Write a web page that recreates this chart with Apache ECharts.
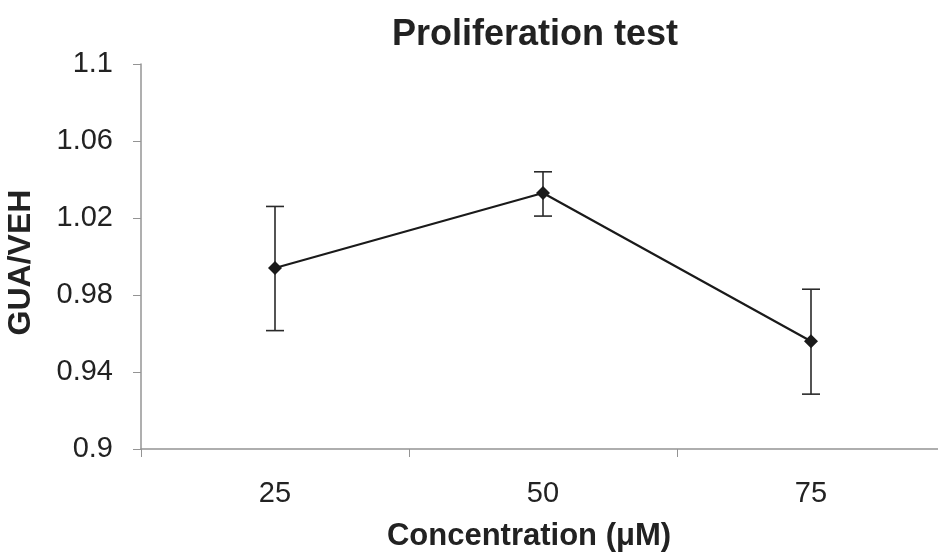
<!DOCTYPE html>
<html>
<head>
<meta charset="utf-8">
<script src="https://cdn.jsdelivr.net/npm/echarts@6/dist/echarts.min.js"></script>
<style>html,body{margin:0;padding:0;background:#fff}#c{width:938px;height:552px}</style>
</head>
<body>
<div id="c"></div>
<script>
const categories = ['25', '50', '75'];
const means = [0.994, 1.033, 0.956];
const errLow = [0.9615, 1.021, 0.9285];
const errHigh = [1.026, 1.044, 0.983];
const yTicks = [0.9, 0.94, 0.98, 1.02, 1.06, 1.1];

const chart = echarts.init(document.getElementById('c'));
const font = '"Liberation Sans", Arial, sans-serif';
const errData = categories.map((c, i) => [i, errLow[i], errHigh[i]]);

chart.setOption({
  animation: false,
  title: {
    text: 'Proliferation test',
    left: 530, top: 12, textAlign: 'center',
    textStyle: { fontFamily: font, fontSize: 36, fontWeight: 'bold', color: '#222' }
  },
  grid: { left: 141, top: 64, width: 804, height: 385, outerBoundsMode: 'none', containLabel: false },
  xAxis: {
    type: 'category',
    data: categories,
    boundaryGap: true,
    name: 'Concentration (μM)',
    nameLocation: 'middle',
    nameGap: 72,
    nameTextStyle: { fontFamily: font, fontSize: 31, fontWeight: 'bold', color: '#222', padding: [0, 28, 0, 0] },
    axisLine: { lineStyle: { color: '#949494', width: 1.5 } },
    axisTick: { show: true, length: 8, lineStyle: { color: '#949494' } },
    axisLabel: { fontFamily: font, fontSize: 29, color: '#222', margin: 30 },
    splitLine: { show: false }
  },
  yAxis: {
    type: 'value',
    min: 0.9, max: 1.1, interval: 0.04,
    name: 'GUA/VEH',
    nameLocation: 'middle',
    nameGap: 104,
    nameTextStyle: { fontFamily: font, fontSize: 32, fontWeight: 'bold', color: '#222', padding: [0, 12, 0, 0] },
    axisLine: { show: true, lineStyle: { color: '#949494', width: 1.5 } },
    axisTick: { show: true, length: 8, lineStyle: { color: '#949494' } },
    axisLabel: {
      fontFamily: font, fontSize: 29, color: '#222', margin: 28,
      formatter: v => {
        const t = yTicks.find(x => Math.abs(x - v) < 1e-6);
        return t !== undefined ? String(t) : '';
      }
    },
    splitLine: { show: false }
  },
  series: [
    {
      type: 'custom',
      data: errData,
      renderItem: (params, api) => {
        const x = api.value(0);
        const lo = api.coord([x, api.value(1)]);
        const hi = api.coord([x, api.value(2)]);
        const hw = 9;
        const st = { stroke: '#2a2a2a', lineWidth: 1.6 };
        return {
          type: 'group',
          children: [
            { type: 'line', shape: { x1: lo[0], y1: lo[1], x2: hi[0], y2: hi[1] }, style: st },
            { type: 'line', shape: { x1: lo[0] - hw, y1: lo[1], x2: lo[0] + hw, y2: lo[1] }, style: st },
            { type: 'line', shape: { x1: hi[0] - hw, y1: hi[1], x2: hi[0] + hw, y2: hi[1] }, style: st }
          ]
        };
      },
      z: 1
    },
    {
      type: 'line',
      data: means,
      symbol: 'diamond',
      symbolSize: 14,
      itemStyle: { color: '#1a1a1a' },
      lineStyle: { color: '#1a1a1a', width: 2.2 },
      z: 2
    }
  ]
});
</script>
</body>
</html>
